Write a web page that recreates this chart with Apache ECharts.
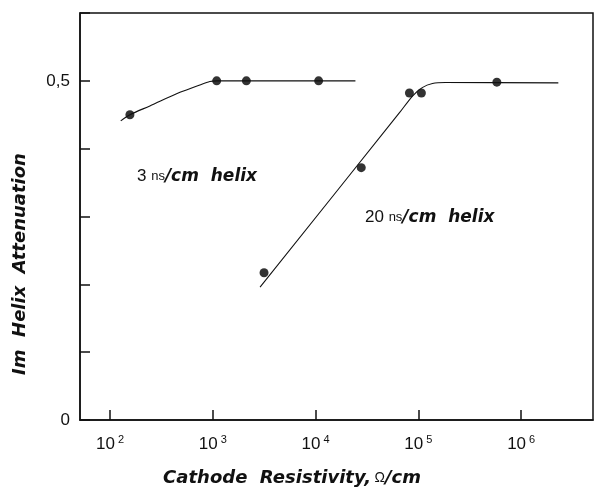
<!DOCTYPE html>
<html>
<head>
<meta charset="utf-8">
<script src="https://cdn.jsdelivr.net/npm/echarts/dist/echarts.min.js"></script>
<style>
  html, body { margin: 0; padding: 0; background: #fff; }
  #chart { width: 595px; height: 490px; }
</style>
</head>
<body>
<div id="chart"></div>
<script>
// measured points (resistivity in ohm/cm, attenuation)
var helix3X = [156, 1090, 2120, 10700];
var helix3Y = [0.450, 0.500, 0.500, 0.500];
var helix20X = [3150, 27800, 81800, 107000, 580000];
var helix20Y = [0.217, 0.372, 0.482, 0.482, 0.498];

// fitted curves drawn through the points
var fit3X = [127, 156, 244, 479, 748, 935, 1090, 24400];
var fit3Y = [0.441, 0.450, 0.463, 0.483, 0.494, 0.499, 0.500, 0.500];
var fit20X = [2880, 65500, 88100, 109000, 137000, 183000, 2300000];
var fit20Y = [0.196, 0.453, 0.478, 0.490, 0.496, 0.4975, 0.497];

var yTickLabels = { 0: '0', 0.5: '0,5' };

function pairs(xs, ys) {
  var out = [];
  for (var i = 0; i < xs.length; i++) {
    out.push([xs[i], ys[i]]);
  }
  return out;
}

var chart = echarts.init(document.getElementById('chart'));
var font = '"Liberation Sans", Arial, sans-serif';
var boldFont = '"DejaVu Sans", sans-serif';

var option = {
  animation: false,
  grid: {
    left: 80,
    right: 2,
    top: 13,
    bottom: 70,
    show: true,
    borderColor: '#111',
    borderWidth: 1.5
  },
  xAxis: {
    type: 'log',
    logBase: 10,
    min: 51,
    max: 5000000,
    axisLine: { lineStyle: { color: '#111', width: 1.5 } },
    axisTick: { inside: true, length: 10, lineStyle: { color: '#111', width: 1.5 } },
    minorTick: { show: false },
    splitLine: { show: false },
    axisLabel: {
      showMinLabel: false,
      showMaxLabel: false,
      margin: 14,
      formatter: function (v) {
        var e = Math.round(Math.log10(v));
        return '{b|10}{s|' + e + '}';
      },
      rich: {
        b: { fontFamily: font, fontSize: 17, color: '#111' },
        s: { fontFamily: font, fontSize: 11, color: '#111', padding: [0, 0, 10, 3] }
      }
    }
  },
  yAxis: {
    type: 'value',
    min: 0,
    max: 0.6,
    interval: 0.1,
    axisLine: { show: true, lineStyle: { color: '#111', width: 1.5 } },
    axisTick: { show: true, inside: true, length: 10, lineStyle: { color: '#111', width: 1.5 } },
    splitLine: { show: false },
    axisLabel: {
      margin: 10,
      fontFamily: font,
      fontSize: 17,
      color: '#111',
      formatter: function (v) {
        var k = Math.round(v * 10) / 10;
        return yTickLabels[k] !== undefined ? yTickLabels[k] : '';
      }
    }
  },
  series: [
    {
      name: 'fit 3 ns/cm',
      type: 'line',
      data: pairs(fit3X, fit3Y),
      smooth: 0.3,
      showSymbol: false,
      lineStyle: { color: '#111', width: 1.1 }
    },
    {
      name: 'fit 20 ns/cm',
      type: 'line',
      data: pairs(fit20X, fit20Y),
      smooth: 0.3,
      showSymbol: false,
      lineStyle: { color: '#111', width: 1.1 }
    },
    {
      name: '3 ns/cm helix',
      type: 'scatter',
      data: pairs(helix3X, helix3Y),
      symbolSize: 9,
      itemStyle: { color: '#000' }
    },
    {
      name: '20 ns/cm helix',
      type: 'scatter',
      data: pairs(helix20X, helix20Y),
      symbolSize: 9,
      itemStyle: { color: '#000' }
    }
  ],
  graphic: [
    {
      type: 'text',
      left: 137,
      top: 168,
      style: {
        text: '{n|3 }{u|ns}{h|/cm  helix}',
        rich: {
          n: { fontFamily: font, fontSize: 17, fill: '#111' },
          u: { fontFamily: font, fontSize: 13, fill: '#111' },
          h: { fontFamily: boldFont, fontSize: 17, fontWeight: 'bold', fontStyle: 'italic', fill: '#111' }
        }
      }
    },
    {
      type: 'text',
      left: 365,
      top: 209,
      style: {
        text: '{n|20 }{u|ns}{h|/cm  helix}',
        rich: {
          n: { fontFamily: font, fontSize: 17, fill: '#111' },
          u: { fontFamily: font, fontSize: 13, fill: '#111' },
          h: { fontFamily: boldFont, fontSize: 17, fontWeight: 'bold', fontStyle: 'italic', fill: '#111' }
        }
      }
    },
    {
      type: 'text',
      x: 20,
      y: 264,
      rotation: Math.PI / 2,
      style: {
        text: 'Im  Helix  Attenuation',
        fontFamily: boldFont,
        fontSize: 18,
        fontWeight: 'bold',
        fontStyle: 'italic',
        fill: '#111',
        align: 'center',
        verticalAlign: 'middle'
      }
    },
    {
      type: 'text',
      x: 292,
      y: 478,
      style: {
        text: '{t|Cathode  Resistivity,} {o|Ω}{t|/cm}',
        align: 'center',
        verticalAlign: 'middle',
        rich: {
          t: { fontFamily: boldFont, fontSize: 18, fontWeight: 'bold', fontStyle: 'italic', fill: '#111' },
          o: { fontFamily: font, fontSize: 14, fill: '#111' }
        }
      }
    }
  ]
};

chart.setOption(option);
</script>
</body>
</html>
